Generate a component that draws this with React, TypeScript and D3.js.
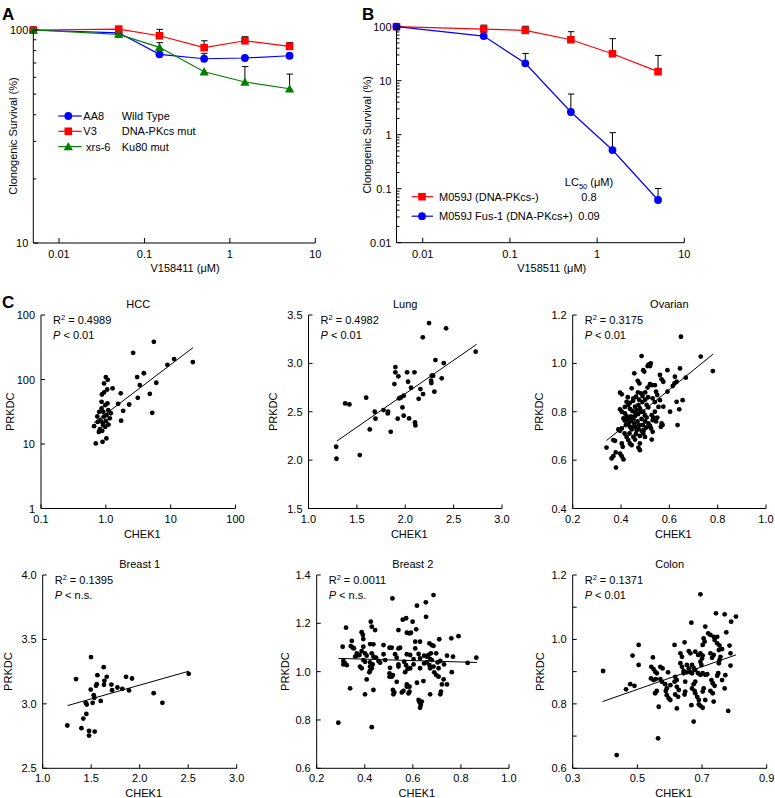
import React from 'react';
import * as d3 from 'd3';

const FONT = "'Liberation Sans', Arial, Helvetica, sans-serif";

// ---------- Panel A / B data ----------
const doses = [0.005, 0.05, 0.15, 0.5, 1.5, 5];
const aa8 = [100, 97, 76.9, 73.3, 73.9, 75.7];
const aa8Err = [null, null, null, 77.7, null, null];
const v3 = [100, 101, 94, 82.6, 89, 83.8];
const v3Err = [null, null, 100.7, 89, 93, 87.2];
const xrs6 = [100, 95.4, 82.9, 63.7, 57, 53];
const xrs6Err = [null, null, 87.2, null, 67.3, 62.1];

const m059j = [100, 90.5, 85.5, 57.4, 31.6, 14.7];
const m059jErr = [null, 107, 102, 80.8, 60, 29.4];
const fus1 = [100, 67, 21, 2.63, 0.52, 0.0617];
const fus1Err = [null, null, 32, 5.66, 1.09, 0.101];

const doseTicks = [0.01, 0.1, 1, 10];
const doseTickLabels = ['0.01', '0.1', '1', '10'];
const aYTicks = [10, 100];
const aYLabels = ['10', '100'];
const aMinor = [20, 30, 40, 50, 60, 70, 80, 90];
const bYTicks = [0.01, 0.1, 1, 10, 100];
const bYLabels = ['0.01', '0.1', '1', '10', '100'];
const bMinor = [0.02,0.03,0.04,0.05,0.06,0.07,0.08,0.09,0.2,0.3,0.4,0.5,0.6,0.7,0.8,0.9,2,3,4,5,6,7,8,9,20,30,40,50,60,70,80,90];

const legendA = [
  { name: 'AA8', desc: 'Wild Type' },
  { name: 'V3', desc: 'DNA-PKcs mut' },
  { name: 'xrs-6', desc: 'Ku80 mut' },
];
const legendB = [
  { name: 'M059J (DNA-PKcs-)', lc50: '0.8' },
  { name: 'M059J Fus-1 (DNA-PKcs+)', lc50: '0.09' },
];

// ---------- Panel C data ----------
const hccPts = [[5.5,384],[2.64,259],[11.3,207],[22,186],[8.9,169],[3.86,125],[3.04,109],[1.0,109],[1.07,99],[3.34,82],[6.0,89],[0.94,87],[1.27,73],[1.05,70],[0.94,63],[1.70,61],[4.77,60],[0.87,58.5],[3.11,52],[0.86,45],[1.06,42.5],[1.55,42],[2.29,41],[1.85,32.7],[5.2,30.4],[0.79,31.5],[0.91,31.5],[1.09,33.5],[1.19,30],[1.02,28],[0.74,26.7],[0.93,26.5],[1.15,25],[0.83,23],[1.72,23],[1.0,22.6],[0.89,21.5],[1.1,20],[0.66,18.9],[0.91,19.5],[0.98,18.5],[0.81,17],[0.78,15.4],[0.88,16],[1.02,12.2],[0.89,10.8],[0.70,10.2],[0.75,22],[0.86,35.5],[0.98,40]];
const hccFit = [0.66, 21.3, 22.2, 313];

const lungPts = [[2.246,3.417],[2.422,3.362],[2.181,3.269],[2.728,3.121],[2.312,3.034],[2.398,3.003],[1.898,2.962],[1.898,2.907],[2.019,2.907],[2.095,2.907],[1.929,2.866],[2.274,2.872],[2.288,2.872],[2.377,2.845],[2.029,2.81],[2.267,2.821],[2.27,2.797],[1.888,2.786],[2.06,2.748],[2.157,2.734],[2.184,2.683],[2.301,2.707],[1.984,2.666],[1.957,2.648],[1.936,2.638],[1.596,2.645],[2.139,2.634],[1.379,2.586],[1.423,2.576],[1.971,2.545],[1.685,2.5],[1.775,2.517],[1.822,2.5],[1.819,2.483],[1.984,2.459],[1.692,2.428],[1.922,2.428],[2.04,2.431],[2.101,2.39],[2.105,2.359],[1.633,2.317],[1.85,2.293],[1.286,2.138],[1.53,2.052],[1.289,2.014]];
const lungFit = [1.293, 2.197, 2.738, 3.197];

const ovarianPts = [[0.648,1.110],[0.485,1.030],[0.730,1.028],[0.780,0.968],[0.516,0.996],[0.520,0.989],[0.513,0.993],[0.523,1.000],[0.510,0.989],[0.644,0.979],[0.592,0.972],[0.492,0.972],[0.496,0.966],[0.455,0.959],[0.561,0.952],[0.568,0.934],[0.575,0.924],[0.668,0.941],[0.623,0.945],[0.630,0.924],[0.469,0.928],[0.476,0.917],[0.520,0.914],[0.527,0.910],[0.444,0.897],[0.621,0.917],[0.614,0.906],[0.545,0.883],[0.550,0.869],[0.592,0.883],[0.396,0.879],[0.403,0.872],[0.483,0.876],[0.489,0.865],[0.531,0.855],[0.451,0.855],[0.561,0.848],[0.630,0.841],[0.655,0.848],[0.641,0.810],[0.634,0.745],[0.575,0.821],[0.603,0.800],[0.423,0.841],[0.430,0.828],[0.437,0.837],[0.396,0.810],[0.403,0.800],[0.458,0.821],[0.465,0.807],[0.472,0.828],[0.478,0.814],[0.506,0.828],[0.513,0.818],[0.492,0.800],[0.499,0.786],[0.506,0.776],[0.416,0.793],[0.423,0.782],[0.444,0.779],[0.451,0.768],[0.458,0.782],[0.410,0.772],[0.416,0.763],[0.527,0.786],[0.534,0.776],[0.531,0.765],[0.550,0.776],[0.568,0.752],[0.565,0.738],[0.572,0.745],[0.513,0.752],[0.520,0.741],[0.524,0.731],[0.430,0.752],[0.437,0.738],[0.444,0.727],[0.403,0.731],[0.396,0.721],[0.389,0.727],[0.458,0.738],[0.465,0.724],[0.472,0.731],[0.485,0.721],[0.492,0.710],[0.531,0.717],[0.499,0.696],[0.423,0.696],[0.430,0.683],[0.451,0.696],[0.458,0.685],[0.527,0.685],[0.403,0.669],[0.407,0.655],[0.437,0.669],[0.444,0.662],[0.472,0.652],[0.478,0.669],[0.478,0.641],[0.368,0.683],[0.375,0.680],[0.340,0.652],[0.378,0.632],[0.396,0.627],[0.403,0.616],[0.361,0.607],[0.368,0.616],[0.410,0.603],[0.379,0.569],[0.416,0.820],[0.437,0.812],[0.447,0.803],[0.460,0.795],[0.470,0.790],[0.482,0.800],[0.440,0.760],[0.455,0.750],[0.468,0.760],[0.485,0.770],[0.420,0.745],[0.447,0.735],[0.462,0.708],[0.478,0.700],[0.435,0.710],[0.415,0.710],[0.490,0.745],[0.500,0.760],[0.505,0.735],[0.450,0.845],[0.462,0.862],[0.475,0.850],[0.488,0.840],[0.500,0.850],[0.512,0.860],[0.540,0.840],[0.555,0.820],[0.540,0.800],[0.545,0.760],[0.500,0.880],[0.510,0.900],[0.540,0.910],[0.470,0.880],[0.428,0.860],[0.440,0.780],[0.428,0.770],[0.475,0.745],[0.495,0.725]];
const ovarianFit = [0.340, 0.681, 0.781, 1.038];

const breast1Pts = [[1.498,3.363],[1.344,3.192],[1.629,3.285],[1.564,3.223],[1.660,3.21],[1.859,3.21],[1.921,3.197],[1.636,3.179],[1.557,3.153],[1.632,3.148],[1.708,3.15],[1.55,3.14],[1.77,3.127],[1.821,3.117],[1.495,3.111],[1.715,3.106],[1.89,3.104],[1.526,3.067],[1.533,3.047],[1.598,3.023],[1.515,3.008],[1.443,3.008],[1.454,2.995],[2.144,3.083],[2.234,3.008],[2.505,3.233],[1.45,2.922],[1.419,2.886],[1.254,2.832],[1.399,2.811],[1.478,2.79],[1.536,2.785],[1.478,2.754]];
const breast1Fit = [1.258, 2.987, 2.509, 3.254];

const breast2Pts = [[0.686,1.317],[0.515,1.303],[0.654,1.287],[0.617,1.273],[0.655,1.227],[0.558,1.215],[0.572,1.221],[0.599,1.207],[0.425,1.207],[0.322,1.182],[0.429,1.186],[0.443,1.172],[0.540,1.172],[0.614,1.175],[0.575,1.161],[0.586,1.158],[0.592,1.161],[0.387,1.163],[0.392,1.152],[0.790,1.147],[0.760,1.138],[0.710,1.134],[0.610,1.124],[0.630,1.124],[0.346,1.127],[0.394,1.135],[0.422,1.114],[0.436,1.113],[0.478,1.110],[0.503,1.099],[0.512,1.099],[0.540,1.096],[0.547,1.099],[0.610,1.096],[0.669,1.117],[0.679,1.110],[0.686,1.107],[0.308,1.103],[0.342,1.106],[0.355,1.096],[0.350,1.099],[0.394,1.103],[0.387,1.085],[0.367,1.076],[0.378,1.069],[0.360,1.062],[0.367,1.066],[0.401,1.076],[0.408,1.066],[0.429,1.076],[0.478,1.072],[0.526,1.072],[0.575,1.072],[0.589,1.069],[0.624,1.073],[0.647,1.066],[0.658,1.062],[0.665,1.069],[0.675,1.076],[0.697,1.076],[0.742,1.066],[0.767,1.062],[0.864,1.058],[0.436,1.062],[0.447,1.058],[0.533,1.058],[0.603,1.052],[0.630,1.055],[0.672,1.052],[0.679,1.048],[0.714,1.044],[0.311,1.044],[0.318,1.034],[0.325,1.027],[0.311,1.030],[0.394,1.048],[0.401,1.041],[0.422,1.038],[0.433,1.030],[0.457,1.044],[0.464,1.037],[0.485,1.048],[0.540,1.030],[0.564,1.041],[0.572,1.027],[0.603,1.030],[0.647,1.034],[0.658,1.038],[0.669,1.027],[0.703,1.038],[0.730,1.030],[0.828,1.036],[0.387,1.014],[0.380,1.021],[0.422,1.021],[0.429,1.014],[0.505,1.016],[0.540,1.021],[0.578,1.011],[0.589,1.014],[0.630,1.014],[0.672,1.014],[0.686,1.021],[0.707,1.014],[0.568,0.998],[0.419,0.997],[0.422,1.003],[0.503,0.993],[0.508,0.986],[0.517,0.986],[0.512,0.979],[0.503,0.979],[0.689,0.997],[0.697,0.986],[0.707,0.979],[0.762,0.998],[0.533,0.958],[0.408,0.968],[0.728,0.968],[0.721,0.947],[0.617,0.954],[0.644,0.961],[0.742,0.947],[0.575,0.947],[0.575,0.938],[0.586,0.938],[0.339,0.931],[0.436,0.924],[0.517,0.924],[0.523,0.914],[0.519,0.906],[0.554,0.914],[0.561,0.920],[0.582,0.910],[0.586,0.917],[0.717,0.917],[0.714,0.906],[0.401,0.906],[0.672,0.906],[0.624,0.883],[0.628,0.873],[0.637,0.876],[0.633,0.862],[0.630,0.851],[0.290,0.789],[0.429,0.770]];
const breast2Fit = [0.290, 1.055, 0.867, 1.038];

const colonPts = [[0.695,1.140],[0.743,1.081],[0.770,1.078],[0.805,1.071],[0.790,1.055],[0.667,1.052],[0.710,1.040],[0.719,1.019],[0.726,1.014],[0.736,1.008],[0.747,1.008],[0.775,1.022],[0.705,1.003],[0.708,0.993],[0.702,0.983],[0.739,0.998],[0.747,0.988],[0.754,0.981],[0.646,0.991],[0.615,0.983],[0.504,0.983],[0.762,0.970],[0.752,0.967],[0.785,0.981],[0.485,0.950],[0.548,0.944],[0.633,0.957],[0.638,0.946],[0.659,0.964],[0.664,0.957],[0.679,0.962],[0.688,0.952],[0.695,0.957],[0.702,0.950],[0.700,0.941],[0.726,0.957],[0.736,0.952],[0.731,0.943],[0.757,0.946],[0.754,0.936],[0.752,0.926],[0.788,0.957],[0.504,0.921],[0.543,0.915],[0.550,0.908],[0.571,0.915],[0.578,0.910],[0.595,0.898],[0.555,0.900],[0.560,0.895],[0.633,0.926],[0.638,0.915],[0.653,0.921],[0.659,0.910],[0.669,0.921],[0.674,0.912],[0.679,0.905],[0.695,0.931],[0.698,0.921],[0.643,0.902],[0.643,0.895],[0.653,0.898],[0.664,0.898],[0.669,0.895],[0.688,0.895],[0.695,0.890],[0.702,0.895],[0.710,0.890],[0.716,0.892],[0.750,0.895],[0.747,0.887],[0.772,0.889],[0.788,0.919],[0.394,0.902],[0.617,0.884],[0.622,0.874],[0.615,0.869],[0.542,0.879],[0.550,0.874],[0.557,0.877],[0.571,0.877],[0.576,0.869],[0.602,0.858],[0.586,0.861],[0.648,0.869],[0.679,0.869],[0.674,0.861],[0.729,0.874],[0.733,0.864],[0.739,0.856],[0.762,0.874],[0.478,0.861],[0.491,0.856],[0.465,0.845],[0.560,0.840],[0.555,0.833],[0.591,0.848],[0.588,0.840],[0.622,0.853],[0.628,0.843],[0.648,0.838],[0.669,0.848],[0.677,0.840],[0.705,0.848],[0.702,0.838],[0.726,0.840],[0.733,0.833],[0.770,0.848],[0.591,0.827],[0.597,0.817],[0.602,0.812],[0.617,0.829],[0.626,0.822],[0.646,0.829],[0.679,0.833],[0.685,0.822],[0.690,0.812],[0.736,0.807],[0.710,0.812],[0.566,0.791],[0.622,0.786],[0.667,0.796],[0.690,0.798],[0.695,0.794],[0.702,0.788],[0.781,0.778],[0.674,0.745],[0.564,0.693],[0.436,0.641]];
const colonFit = [0.392, 0.807, 0.805, 0.952];

const hccXTicks = [0.1, 1, 10, 100];
const hccXLabels = ['0.1', '1.0', '10', '100'];
const hccYTicks = [1, 10, 100, 1000];
const hccYLabels = ['1', '10', '100', '100'];
const lungXTicks = [1.0, 1.5, 2.0, 2.5, 3.0];
const lungYTicks = [1.5, 2.0, 2.5, 3.0, 3.5];
const ovXTicks = [0.2, 0.4, 0.6, 0.8, 1.0];
const ovYTicks = [0.4, 0.6, 0.8, 1.0, 1.2];
const b1XTicks = [1.0, 1.5, 2.0, 2.5, 3.0];
const b1YTicks = [2.5, 3.0, 3.5, 4.0];
const b2XTicks = [0.2, 0.4, 0.6, 0.8, 1.0];
const b2YTicks = [0.6, 0.8, 1.0, 1.2, 1.4];
const colXTicks = [0.3, 0.5, 0.7, 0.9];
const colYTicks = [0.6, 0.7, 0.8, 0.9, 1.0, 1.1, 1.2];
const colYLabels = ['0.6', '', '0.8', '', '1.0', '', '1.2'];

const BLUE = '#0000ff';
const RED = '#ff0000';
const GREEN = '#008000';
const fmt1 = (v: number) => v.toFixed(1);

function Marker({ shape, x, y, color }: any) {
  if (shape === 'circle') return <circle cx={x} cy={y} r={3.9} fill={color} />;
  if (shape === 'square') return <rect x={x - 3.8} y={y - 3.8} width={7.6} height={7.6} fill={color} />;
  const s = 4.6;
  return <path d={`M${x},${y - s}L${x + s},${y + s * 0.8}L${x - s},${y + s * 0.8}Z`} fill={color} />;
}

function DosePanel({ box, yDomain, yTicks, yLabels, minor, series }: any) {
  const x = d3.scaleLog().domain([0.005, 10]).range([box.x0, box.x1]);
  const y = d3.scaleLog().domain(yDomain).range([box.y1, box.y0]);
  const line = d3.line<number>().x((_, i) => x(doses[i])).y((v) => y(v));
  return (
    <g>
      {series.map((s: any, k: number) => (
        <g key={'e' + k}>
          {s.errs.map((e: number | null, i: number) =>
            e == null ? null : (
              <g key={i} stroke="#000" strokeWidth={1}>
                <line x1={x(doses[i])} x2={x(doses[i])} y1={y(s.vals[i])} y2={y(e)} />
                <line x1={x(doses[i]) - 3} x2={x(doses[i]) + 3.5} y1={y(e)} y2={y(e)} />
              </g>
            )
          )}
        </g>
      ))}
      {series.map((s: any, k: number) => (
        <g key={'s' + k}>
          <path d={line(s.vals) || ''} fill="none" stroke={s.color} strokeWidth={1.2} />
          {s.vals.map((v: number, i: number) => (
            <Marker key={i} shape={s.shape} x={x(doses[i])} y={y(v)} color={s.color} />
          ))}
        </g>
      ))}
      <line x1={box.x0} x2={box.x0} y1={box.y0} y2={box.y1} stroke="#000" />
      <line x1={box.x0} x2={box.x1} y1={box.y1} y2={box.y1} stroke="#000" />
      {minor.map((t: number) => (
        <line key={'m' + t} x1={box.x0} x2={box.x0 + 3} y1={y(t)} y2={y(t)} stroke="#000" />
      ))}
      {yTicks.map((t: number, i: number) => (
        <g key={'y' + t}>
          <line x1={box.x0} x2={box.x0 + 5} y1={y(t)} y2={y(t)} stroke="#000" />
          <text x={box.x0 - 5} y={y(t) + 4} textAnchor="end" fontSize={11}>{yLabels[i]}</text>
        </g>
      ))}
      {doseTicks.map((t, i) => (
        <g key={'x' + t}>
          <line x1={x(t)} x2={x(t)} y1={box.y1} y2={box.y1 - 5} stroke="#000" />
          <text x={x(t)} y={box.y1 + 15} textAnchor="middle" fontSize={11}>{doseTickLabels[i]}</text>
        </g>
      ))}
    </g>
  );
}

function Scatter({ c }: any) {
  const x = (c.xLog ? d3.scaleLog() : d3.scaleLinear()).domain(c.xDomain).range([c.box.x0, c.box.x1]);
  const y = (c.yLog ? d3.scaleLog() : d3.scaleLinear()).domain(c.yDomain).range([c.box.y1, c.box.y0]);
  const { x0, x1, y0, y1 } = c.box;
  return (
    <g>
      <text x={(x0 + x1) / 2} y={y0 - 7} textAnchor="middle" fontSize={11}>{c.title}</text>
      {c.pts.map((p: number[], i: number) => (
        <circle key={i} cx={x(p[0])} cy={y(p[1])} r={2.4} fill="#000" />
      ))}
      <line x1={x(c.fit[0])} y1={y(c.fit[1])} x2={x(c.fit[2])} y2={y(c.fit[3])} stroke="#000" strokeWidth={1} />
      <line x1={x0} x2={x0} y1={y0} y2={y1} stroke="#000" />
      <line x1={x0} x2={x1} y1={y1} y2={y1} stroke="#000" />
      {c.yTicks.map((t: number, i: number) => (
        <g key={'y' + i}>
          <line x1={x0} x2={x0 + 4} y1={y(t)} y2={y(t)} stroke="#000" />
          <text x={x0 - 6} y={y(t) + 4} textAnchor="end" fontSize={11}>{c.yLabels[i]}</text>
        </g>
      ))}
      {c.xTicks.map((t: number, i: number) => (
        <g key={'x' + i}>
          <line x1={x(t)} x2={x(t)} y1={y1} y2={y1 - 4} stroke="#000" />
          <text x={x(t)} y={y1 + 14} textAnchor="middle" fontSize={11}>{c.xLabels[i]}</text>
        </g>
      ))}
      <text x={(x0 + x1) / 2 + 4} y={y1 + 29} textAnchor="middle" fontSize={11}>CHEK1</text>
      <text transform={`translate(${c.yTitleX + 4},${(y0 + y1) / 2}) rotate(-90)`} textAnchor="middle" fontSize={11}>PRKDC</text>
      <text x={x0 + 12} y={y0 + 9} fontSize={11}>
        R<tspan dy={-4} fontSize={7.5}>2</tspan><tspan dy={4}>{' = ' + c.r2}</tspan>
      </text>
      <text x={x0 + 12} y={y0 + 24} fontSize={11}>
        <tspan fontStyle="italic">P</tspan>{' < ' + c.p}
      </text>
    </g>
  );
}

export default function App() {
  const row1 = { y0: 315, y1: 508.5 };
  const row2 = { y0: 575, y1: 768.3 };
  const panels = [
    { title: 'HCC', pts: hccPts, fit: hccFit, r2: '0.4989', p: '0.01', xLog: true, yLog: true,
      xDomain: [0.1, 100], yDomain: [1, 1000], xTicks: hccXTicks, xLabels: hccXLabels, yTicks: hccYTicks, yLabels: hccYLabels,
      box: { x0: 41, x1: 235.5, ...row1 }, yTitleX: 10 },
    { title: 'Lung', pts: lungPts, fit: lungFit, r2: '0.4982', p: '0.01',
      xDomain: [1, 3], yDomain: [1.5, 3.5], xTicks: lungXTicks, xLabels: lungXTicks.map(fmt1), yTicks: lungYTicks, yLabels: lungYTicks.map(fmt1),
      box: { x0: 308.5, x1: 502, ...row1 }, yTitleX: 273 },
    { title: 'Ovarian', pts: ovarianPts, fit: ovarianFit, r2: '0.3175', p: '0.01',
      xDomain: [0.2, 1.0], yDomain: [0.4, 1.2], xTicks: ovXTicks, xLabels: ovXTicks.map(fmt1), yTicks: ovYTicks, yLabels: ovYTicks.map(fmt1),
      box: { x0: 572.7, x1: 766, ...row1 }, yTitleX: 539 },
    { title: 'Breast 1', pts: breast1Pts, fit: breast1Fit, r2: '0.1395', p: 'n.s.',
      xDomain: [1, 3], yDomain: [2.5, 4.0], xTicks: b1XTicks, xLabels: b1XTicks.map(fmt1), yTicks: b1YTicks, yLabels: b1YTicks.map(fmt1),
      box: { x0: 42.7, x1: 236.7, ...row2 }, yTitleX: 8 },
    { title: 'Breast 2', pts: breast2Pts, fit: breast2Fit, r2: '0.0011', p: 'n.s.',
      xDomain: [0.2, 1.0], yDomain: [0.6, 1.4], xTicks: b2XTicks, xLabels: b2XTicks.map(fmt1), yTicks: b2YTicks, yLabels: b2YTicks.map(fmt1),
      box: { x0: 316.7, x1: 509, ...row2 }, yTitleX: 285 },
    { title: 'Colon', pts: colonPts, fit: colonFit, r2: '0.1371', p: '0.01',
      xDomain: [0.3, 0.9], yDomain: [0.6, 1.2], xTicks: colXTicks, xLabels: colXTicks.map(fmt1), yTicks: colYTicks, yLabels: colYLabels,
      box: { x0: 572.7, x1: 766.7, ...row2 }, yTitleX: 540 },
  ];

  const aBox = { x0: 33.3, x1: 315.3, y0: 30, y1: 243 };
  const bBox = { x0: 396.5, x1: 684.3, y0: 26.7, y1: 242.7 };
  const aSeries = [
    { vals: aa8, errs: aa8Err, color: BLUE, shape: 'circle' },
    { vals: v3, errs: v3Err, color: RED, shape: 'square' },
    { vals: xrs6, errs: xrs6Err, color: GREEN, shape: 'triangle' },
  ];
  const bSeries = [
    { vals: m059j, errs: m059jErr, color: RED, shape: 'square' },
    { vals: fus1, errs: fus1Err, color: BLUE, shape: 'circle' },
  ];
  const aLegColors = [BLUE, RED, GREEN];
  const aLegShapes = ['circle', 'square', 'triangle'];
  const bLegColors = [RED, BLUE];
  const bLegShapes = ['square', 'circle'];

  return (
    <svg width={775} height={798} style={{ position: 'absolute', left: 0, top: 0, background: '#fff' }}
      fontFamily={FONT} fill="#000">
      <rect width={775} height={798} fill="#fff" />
      <text x={2} y={20} fontSize={17} fontWeight="bold">A</text>
      <text x={362} y={20} fontSize={17} fontWeight="bold">B</text>
      <text x={2} y={308} fontSize={17} fontWeight="bold">C</text>

      <DosePanel box={aBox} yDomain={[10, 100]} yTicks={aYTicks} yLabels={aYLabels} minor={aMinor} series={aSeries} />
      <text transform={`translate(17,136) rotate(-90)`} textAnchor="middle" fontSize={11}>Clonogenic Survival (%)</text>
      <text x={185} y={272} textAnchor="middle" fontSize={11}>V158411 (μM)</text>
      {legendA.map((l, i) => {
        const yy = 116 + i * 15.3;
        return (
          <g key={l.name}>
            <line x1={58.3} x2={81.7} y1={yy} y2={yy} stroke={aLegColors[i]} strokeWidth={1.2} />
            <Marker shape={aLegShapes[i]} x={68.3} y={yy} color={aLegColors[i]} />
            <text x={i === 2 ? 86 : 83.3} y={yy + 4} fontSize={11}>{l.name}</text>
            <text x={121.7} y={yy + 4} fontSize={11}>{l.desc}</text>
          </g>
        );
      })}

      <DosePanel box={bBox} yDomain={[0.01, 100]} yTicks={bYTicks} yLabels={bYLabels} minor={bMinor} series={bSeries} />
      <text transform={`translate(371,134.7) rotate(-90)`} textAnchor="middle" fontSize={11}>Clonogenic Survival (%)</text>
      <text x={551.7} y={272} textAnchor="middle" fontSize={11}>V158511 (μM)</text>
      <text x={589} y={186} textAnchor="middle" fontSize={11}>
        LC<tspan dy={3} fontSize={7.5}>50</tspan><tspan dy={-3}> (μM)</tspan>
      </text>
      {legendB.map((l, i) => {
        const yy = 196.7 + i * 19.5;
        return (
          <g key={l.name}>
            <line x1={411.7} x2={433} y1={yy} y2={yy} stroke={bLegColors[i]} strokeWidth={1.2} />
            <Marker shape={bLegShapes[i]} x={422} y={yy} color={bLegColors[i]} />
            <text x={439} y={yy + 4} fontSize={11}>{l.name}</text>
            <text x={589} y={yy + 4} textAnchor="middle" fontSize={11}>{l.lc50}</text>
          </g>
        );
      })}

      {panels.map((c) => <Scatter key={c.title} c={c} />)}
    </svg>
  );
}
